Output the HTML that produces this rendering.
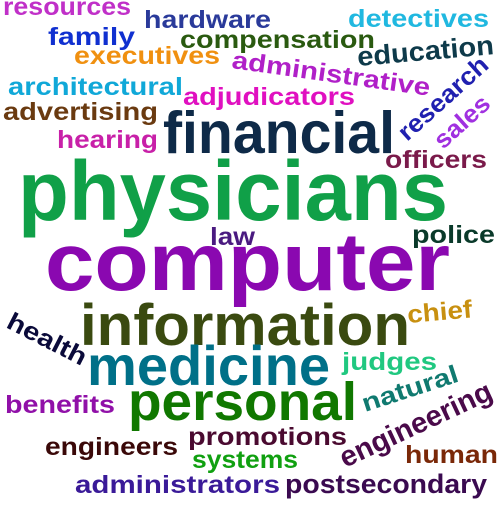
<!DOCTYPE html>
<html><head><meta charset="utf-8"><style>
html,body{margin:0;padding:0;background:#fff;width:500px;height:513px;overflow:hidden}
svg text{font-family:"Liberation Sans","DejaVu Sans",sans-serif;font-weight:bold}
</style></head><body>
<svg id="cloud" width="500" height="513" viewBox="0 0 500 513" xmlns="http://www.w3.org/2000/svg"></svg>
<script>
const words=["resources","hardware","family","detectives","compensation","education","executives","administrative","architectural","adjudicators","advertising","research","sales","financial","hearing","officers","physicians","law","police","computer","chief","health","information","medicine","judges","personal","natural","benefits","engineering","promotions","engineers","human","systems","administrators","postsecondary"];
const sizes=[25,25,25,25,25,27,25,25,25,25,25,25,25,59,25,25,84,25,25,82,25,25,58,56,25,54,25,25,29,25,25,25,25,25,27];
const lay=[[3,15,128,0],[144,28,127,0],[48,45,87,0],[348,27,141,0],[180,48,195,0],[358,66,137,-5],[74,64,146,0],[231,68,200,8],[8,95,175,0],[183,105,172,0],[3,120,155,0],[407,142,112,-42],[443,150,66,-42],[163,153,232,0],[57,148,101,0],[385,168,102,0],[18,220,430,0],[210,245,45,0],[412,243,83,0],[45,290,405,0],[408,323,65,-5],[5,327,86,27],[80,345,330,0],[87,385,243,0],[342,370,95,0],[128,420,229,0],[365,412,100,-18],[5,413,110,0],[345,468,165,-25],[188,445,159,0],[45,455,133,0],[405,463,93,0],[192,468,106,0],[75,493,205,0],[285,493,202,0]];
const colors=["#c030c8","#2a3a9a","#1030d0","#20b8e0","#2a5a10","#0e3a4a","#f09010","#b020c8","#10a8d8","#e010c0","#6a3a10","#2020b0","#a030e0","#0e2a48","#c820a8","#7a1a4a","#10a048","#4a1a80","#0a3a2a","#8a08b0","#c89010","#0a0a3a","#3a4a10","#007088","#20c880","#107800","#107a70","#9010a8","#4a0a4a","#4a0a30","#3a0808","#7a2808","#10a010","#3a1a98","#3a0a50"];
const svg=document.getElementById('cloud');
const NS="http://www.w3.org/2000/svg";
words.forEach((w,i)=>{
  const [x,y,len,rot]=lay[i];
  const t=document.createElementNS(NS,'text');
  t.setAttribute('x',x);t.setAttribute('y',y);
  t.setAttribute('font-size',sizes[i]);
  t.setAttribute('fill',colors[i]);
  t.setAttribute('textLength',len);
  t.setAttribute('lengthAdjust','spacingAndGlyphs');
  if(rot)t.setAttribute('transform','rotate('+rot+' '+x+' '+y+')');
  
  
  t.textContent=w;
  svg.appendChild(t);
});
</script>
</body></html>
